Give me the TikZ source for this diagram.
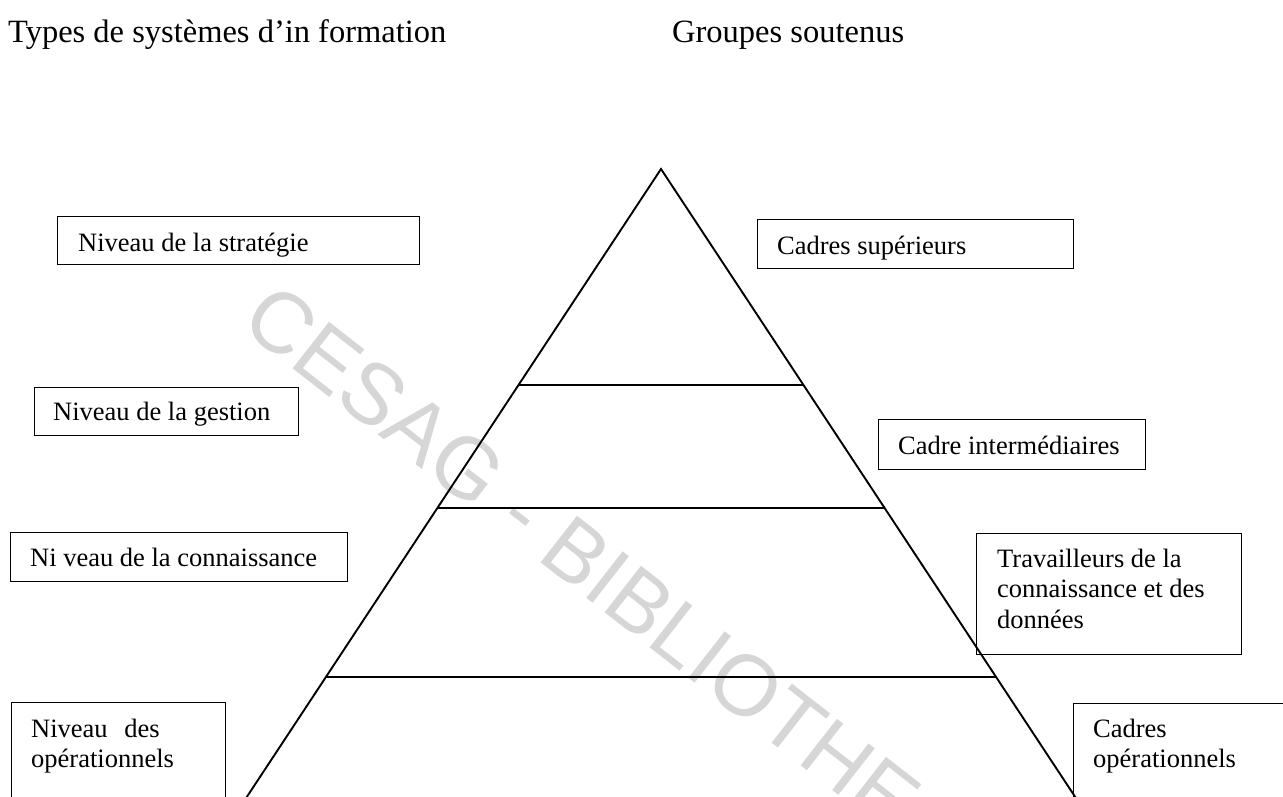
\documentclass[tikz,border=0pt]{standalone}
\usepackage{fontspec}
\setmainfont{Liberation Serif}
\newfontfamily\wmfont{Liberation Sans}
\usetikzlibrary{calc}
\definecolor{wmgray}{RGB}{214,214,214}
\begin{document}
\begin{tikzpicture}[x=1pt,y=-1pt,
  frame/.style={draw=black, line width=1.1pt, rectangle, anchor=north west, inner sep=0pt},
  lbl/.style={anchor=base west, inner sep=0pt, font=\fontsize{26.5}{30.5}\selectfont},
  heading/.style={anchor=base west, inner sep=0pt, font=\fontsize{32.5}{38}\selectfont},
  side/.style={line width=1.9pt, line cap=round},
  tier/.style={line width=1.9pt},
  stamp/.style={anchor=base west, inner sep=0pt, text=wmgray, font=\wmfont\fontsize{86}{90}\selectfont}
]
\useasboundingbox (0,0) rectangle (1283,797);
\clip (0,0) rectangle (1283,797);

% library stamp across the page
\node[stamp, rotate=-38] (stamp) at (238,326) {CESAG - BIBLIOTHEQUE};

% column headings
\node[heading] (hleft) at (8,43) {Types de systèmes d’in formation};
\node[heading] (hright) at (672,43) {Groupes soutenus};

% pyramid
\coordinate (apex) at (661,169);
\coordinate (bl) at (225,830);
\coordinate (br) at (1097,830);
\draw[side] (bl) -- (apex) -- (br);
\foreach \t/\n in {0.3268/a, 0.5129/b, 0.7685/c} {
  \coordinate (l\n) at ($(apex)!\t!(bl)$);
  \coordinate (r\n) at ($(apex)!\t!(br)$);
  \draw[tier] (l\n) -- (r\n);
}

% levels of information systems (left)
\node[frame, minimum width=362pt, minimum height=48pt] (strat) at (57,216) {};
\node[lbl] (tstrat) at (78,251) {Niveau de la stratégie};

\node[frame, minimum width=264pt, minimum height=48pt] (gest) at (34,387) {};
\node[lbl] (tgest) at (53,420) {Niveau de la gestion};

\node[frame, minimum width=337pt, minimum height=49pt] (conn) at (10,532) {};
\node[lbl] (tconn) at (30,566) {Ni veau de la connaissance};

\node[frame, minimum width=214pt, minimum height=130pt] (oper) at (11,702) {};
\node[lbl] (toper) at (31,737) {\parbox[t]{200pt}{Niveau\hspace{10pt} des\\opérationnels}};

% groups served (right)
\node[frame, minimum width=316pt, minimum height=49pt] (sup) at (757,219) {};
\node[lbl] (tsup) at (777,254) {Cadres supérieurs};

\node[frame, minimum width=267pt, minimum height=50pt] (inter) at (878,419) {};
\node[lbl] (tinter) at (898,454) {Cadre intermédiaires};

\node[frame, minimum width=265pt, minimum height=121pt] (trav) at (976,533) {};
\node[lbl] (ttrav) at (997,567) {\parbox[t]{240pt}{Travailleurs de la\\connaissance et des\\données}};

\node[frame, minimum width=240pt, minimum height=130pt] (cop) at (1073,703) {};
\node[lbl] (tcop) at (1093,737) {\parbox[t]{200pt}{Cadres\\opérationnels}};
\end{tikzpicture}
\end{document}
